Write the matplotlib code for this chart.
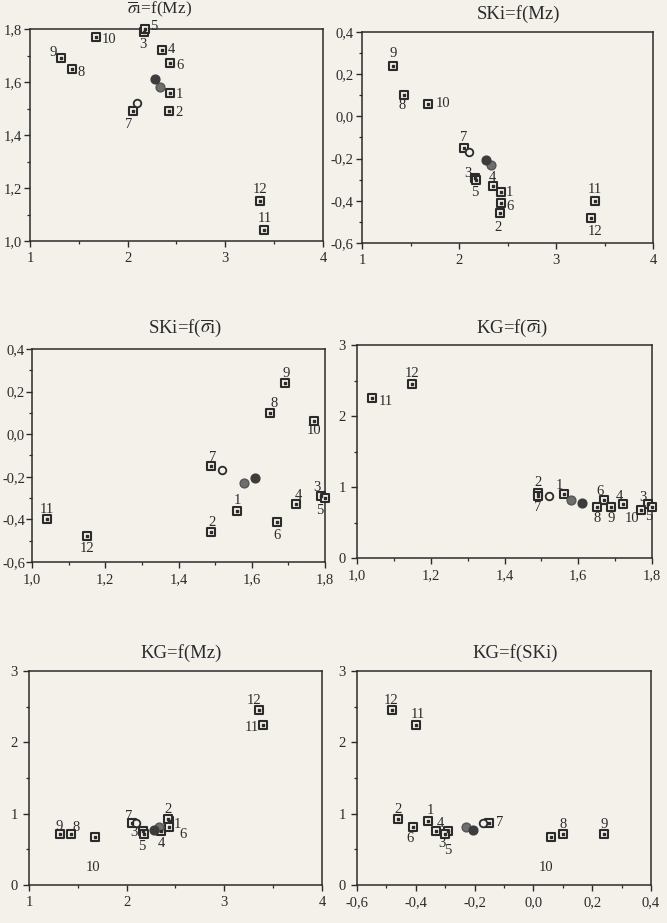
import matplotlib
matplotlib.use("Agg")
import matplotlib.pyplot as plt
from matplotlib.ticker import MultipleLocator, FuncFormatter

plt.rcParams['font.family'] = ['Liberation Serif', 'DejaVu Serif']
plt.rcParams['mathtext.fontset'] = 'stix'

# sample numbers and grain-size parameters
samples = [1, 2, 3, 4, 5, 6, 7, 8, 9, 10, 11, 12]
mz = [2.43, 2.42, 2.17, 2.35, 2.18, 2.43, 2.05, 1.43, 1.32, 1.68, 3.40, 3.36]
sigma = [1.56, 1.49, 1.79, 1.72, 1.80, 1.67, 1.49, 1.65, 1.69, 1.77, 1.04, 1.15]
ski = [-0.36, -0.46, -0.29, -0.33, -0.30, -0.41, -0.15, 0.10, 0.24, 0.06, -0.40, -0.48]
kg = [0.90, 0.92, 0.76, 0.76, 0.72, 0.82, 0.87, 0.72, 0.72, 0.67, 2.25, 2.45]

# mean points: open, grey, dark circles
mean_mz = [2.10, 2.33, 2.28]
mean_sigma = [1.52, 1.58, 1.61]
mean_ski = [-0.17, -0.23, -0.205]
mean_kg = [0.87, 0.81, 0.77]

BG = '#f3f1ea'
INK = '#2b2b2b'
W, H = 667, 923

fig = plt.figure(figsize=(W / 100, H / 100), dpi=100, facecolor=BG)


def box(l, t, r, b):
    return [l / W, 1 - b / H, (r - l) / W, (b - t) / H]


def comma(v, pos):
    return ('%.1f' % v).replace('.', ',')


def integer(v, pos):
    return '%d' % round(v)


def panel(rect, title, tpos, xs, ys, mxs, mys, xlim, ylim, xmaj, xmin, ymaj, ymin,
          xfmt, yfmt, offsets, ypad=4, tsize=13.5):
    ax = fig.add_axes(box(*rect))
    ax.set_facecolor(BG)
    for s in ax.spines.values():
        s.set_color(INK)
        s.set_linewidth(1.1)
    ax.set_xlim(*xlim)
    ax.set_ylim(*ylim)
    ax.xaxis.set_major_locator(MultipleLocator(xmaj))
    ax.xaxis.set_minor_locator(MultipleLocator(xmin))
    ax.yaxis.set_major_locator(MultipleLocator(ymaj))
    ax.yaxis.set_minor_locator(MultipleLocator(ymin))
    ax.xaxis.set_major_formatter(FuncFormatter(xfmt))
    ax.yaxis.set_major_formatter(FuncFormatter(yfmt))
    ax.tick_params(which='major', direction='out', length=4, width=1, color=INK,
                   labelsize=10.5, labelcolor=INK, pad=4)
    ax.tick_params(axis='y', which='major', pad=ypad)
    ax.tick_params(which='minor', direction='out', length=2.5, width=0.9, color=INK)

    ax.scatter(xs, ys, marker='s', s=40, facecolor=BG, edgecolor=INK,
               linewidth=1.5, zorder=3, clip_on=False)
    ax.scatter(xs, ys, marker='s', s=3, color=INK, zorder=4, clip_on=False)
    ax.scatter(mxs[0], mys[0], marker='o', s=30, facecolor=BG, edgecolor=INK,
               linewidth=1.3, zorder=3)
    ax.scatter(mxs[1], mys[1], marker='o', s=40, color='#6e6e6e', edgecolor='#555555',
               zorder=3)
    ax.scatter(mxs[2], mys[2], marker='o', s=40, color='#3c3c3c', zorder=3)

    for n, x, y in zip(samples, xs, ys):
        dx, dy = offsets[n]
        ax.annotate(str(n), (x, y), xytext=(dx, dy), textcoords='offset pixels',
                    ha='center', va='center', fontsize=10.5, color=INK, zorder=5)
    fig.text(tpos[0] / W, 1 - tpos[1] / H, title, ha='center', va='center',
             fontsize=tsize, color=INK)
    return ax


sig_label = r'$\overline{\sigma}$'

# panel 1: sigma = f(Mz)
off1 = {1: (10, -2), 2: (10, -1), 3: (-1, -13), 4: (10, 1), 5: (9, 3), 6: (10, -2),
        7: (-4, -13), 8: (9, -4), 9: (-8, 6), 10: (13, -3), 11: (0, 12), 12: (0, 12)}
panel((30, 29, 323, 241), sig_label + 'ı=f(Mz)', (160, 9), mz, sigma, mean_mz, mean_sigma,
      (1, 4), (1.0, 1.8), 1, 0.5, 0.2, 0.1, integer, comma, off1, ypad=2, tsize=12.5)

# panel 2: SKi = f(Mz)
off2 = {1: (9, 0), 2: (-2, -14), 3: (-8, 4), 4: (-1, 9), 5: (-2, -13), 6: (9, -4),
        7: (0, 11), 8: (-2, -10), 9: (0, 12), 10: (15, 0), 11: (0, 11), 12: (4, -14)}
panel((362, 32, 653, 243), 'SKi=f(Mz)', (518, 14), mz, ski, mean_mz, mean_ski,
      (1, 4), (-0.6, 0.4), 1, 0.5, 0.2, 0.1, integer, comma, off2, ypad=2)

# panel 3: SKi = f(sigma)
off3 = {1: (0, 10), 2: (1, 10), 3: (-4, 8), 4: (3, 9), 5: (-5, -12), 6: (0, -14),
        7: (1, 9), 8: (4, 9), 9: (1, 10), 10: (0, -9), 11: (0, 10), 12: (0, -12)}
panel((32, 349, 325, 562), 'SKi=f(' + sig_label + 'i)', (185, 328), sigma, ski,
      mean_sigma, mean_ski, (1.0, 1.8), (-0.6, 0.4), 0.2, 0.1, 0.2, 0.1, comma, comma,
      off3, ypad=1)

# panel 4: KG = f(sigma)
off4 = {1: (-4, 9), 2: (0, 10), 3: (-5, 7), 4: (-3, 8), 5: (-3, -10), 6: (-4, 8),
        7: (0, -11), 8: (0, -12), 9: (0, -12), 10: (-9, -8), 11: (14, -3), 12: (0, 11)}
panel((357, 345, 652, 558), 'KG=f(' + sig_label + 'i)', (512, 328), sigma, kg,
      mean_sigma, mean_kg, (1.0, 1.8), (0, 3), 0.2, 0.1, 1, 0.5, comma, integer, off4)

# panel 5: KG = f(Mz)
off5 = {1: (9, -4), 2: (0, 10), 3: (-9, -2), 4: (1, -13), 5: (-2, -13), 6: (14, -8),
        7: (-3, 6), 8: (5, 6), 9: (-1, 7), 10: (-2, -30), 11: (-12, -3), 12: (-5, 10)}
panel((29, 671, 322, 885), 'KG=f(Mz)', (181, 653), mz, kg, mean_mz, mean_kg,
      (1, 4), (0, 3), 1, 0.5, 1, 0.5, integer, integer, off5)

# panel 6: KG = f(SKi)
off6 = {1: (3, 10), 2: (0, 10), 3: (-6, -13), 4: (4, 7), 5: (3, -17), 6: (-3, -12),
        7: (10, 0), 8: (0, 9), 9: (0, 9), 10: (-5, -30), 11: (2, 10), 12: (-1, 10)}
panel((357, 671, 651, 885), 'KG=f(SKi)', (515, 653), ski, kg, mean_ski, mean_kg,
      (-0.6, 0.4), (0, 3), 0.2, 0.1, 1, 0.5, comma, integer, off6)

fig.savefig('out.png', dpi=100, facecolor=BG)
